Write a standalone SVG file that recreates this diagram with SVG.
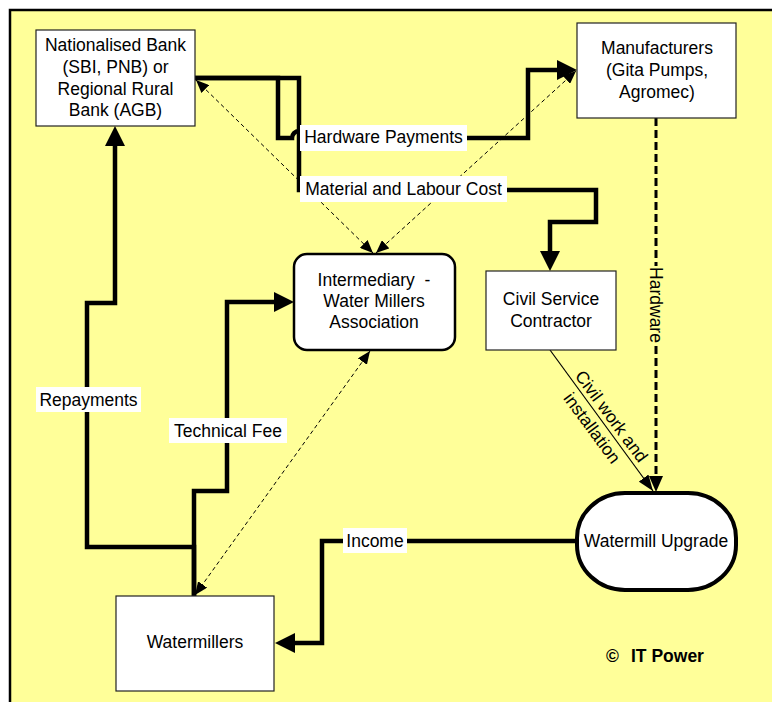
<svg xmlns="http://www.w3.org/2000/svg" width="772" height="702" viewBox="0 0 772 702">
<style>
text{font-family:"Liberation Sans",Arial,sans-serif;font-size:17.5px;fill:#000}
.c{text-anchor:middle}
.box{fill:#fff;stroke:#222;stroke-width:1.2}
.thick{fill:none;stroke:#000;stroke-width:4.5}
.dash{fill:none;stroke:#000;stroke-width:1;stroke-dasharray:4,3}
.lbl{fill:#fff}
</style>
<defs>
<marker id="big" markerUnits="userSpaceOnUse" viewBox="0 0 20 20" markerWidth="20" markerHeight="20" refX="10" refY="10" orient="auto"><path d="M0,0 L20,10 L0,20 z" fill="#000"/></marker>
<marker id="hw" markerUnits="userSpaceOnUse" viewBox="0 0 16 14" markerWidth="16" markerHeight="14" refX="8" refY="7" orient="auto"><path d="M0,0 L16,7 L0,14 z" fill="#000"/></marker>
<marker id="cw" markerUnits="userSpaceOnUse" viewBox="0 0 16 12" markerWidth="16" markerHeight="12" refX="16" refY="6" orient="auto"><path d="M0,0 L16,6 L0,12 z" fill="#000"/></marker>
<marker id="sm" markerUnits="userSpaceOnUse" viewBox="0 0 13 11" markerWidth="13" markerHeight="11" refX="13" refY="5.5" orient="auto-start-reverse"><path d="M0,0 L13,5.5 L0,11 z" fill="#000"/></marker>
</defs>
<rect x="0" y="0" width="772" height="702" fill="#fff"/>
<rect x="10" y="10" width="800" height="720" fill="#FFFF99" stroke="#000" stroke-width="2.5"/>

<g id="connectors">
<path class="thick" d="M195,78 H278 V138 H292 A7,7 0 0 1 306,138 H528 V70 H567" marker-end="url(#big)"/>
<path class="thick" d="M195,78 H299 V190 H596 V222 H550 V261" marker-end="url(#big)"/>
<path class="thick" d="M194,596 V547 H87 V303 H115 V136" marker-end="url(#big)"/>
<path class="thick" d="M194,596 V491 H227 V302 H284" marker-end="url(#big)"/>
<path class="thick" d="M576,541 H322 V643 H285" marker-end="url(#big)"/>
<path d="M656,118 V484" fill="none" stroke="#000" stroke-width="3" stroke-dasharray="8,4" marker-end="url(#hw)"/>
<path d="M550,350 L653,491" fill="none" stroke="#000" stroke-width="1.2" marker-end="url(#cw)"/>
<path class="dash" d="M196,80 L373,253" marker-start="url(#sm)" marker-end="url(#sm)"/>
<path class="dash" d="M376,253 L576,71" marker-start="url(#sm)" marker-end="url(#sm)"/>
<path class="dash" d="M370,351 L195,595" marker-start="url(#sm)" marker-end="url(#sm)"/>
<rect class="lbl" x="300" y="125" width="167" height="26"/>
<text class="c" x="383.5" y="143">Hardware Payments</text>
<rect class="lbl" x="300" y="176" width="207" height="26"/>
<text class="c" x="403.5" y="195">Material and Labour Cost</text>
<rect class="lbl" x="36" y="387" width="105" height="25"/>
<text class="c" x="88.5" y="406">Repayments</text>
<rect class="lbl" x="169" y="418" width="118" height="25"/>
<text class="c" x="228" y="437">Technical Fee</text>
<rect class="lbl" x="343" y="528" width="64" height="25"/>
<text class="c" x="375" y="547">Income</text>
<rect x="647" y="266" width="18" height="78" fill="#FFFF99"/>
<text class="c" transform="translate(656,305) rotate(90)" x="0" y="6">Hardware</text>
<g transform="translate(602,422) rotate(53.6)">
<text class="c" x="1" y="-5">Civil work and</text>
<text class="c" x="-1" y="17.5">installation</text>
</g>
</g>

<g id="bank">
<rect class="box" x="36" y="30" width="159" height="96"/>
<text class="c" x="115.5" y="51">Nationalised Bank</text>
<text class="c" x="115.5" y="73">(SBI, PNB) or</text>
<text class="c" x="115.5" y="95">Regional Rural</text>
<text class="c" x="115.5" y="116">Bank (AGB)</text>
</g>
<g id="manufacturers">
<rect class="box" x="577" y="23" width="159" height="95"/>
<text class="c" x="657" y="54">Manufacturers</text>
<text class="c" x="657" y="76">(Gita Pumps,</text>
<text class="c" x="657" y="98">Agromec)</text>
</g>
<g id="intermediary">
<rect x="294" y="254" width="161" height="96" rx="13" fill="#fff" stroke="#000" stroke-width="2.5"/>
<text class="c" x="374" y="286" xml:space="preserve">Intermediary  -</text>
<text class="c" x="374" y="307">Water Millers</text>
<text class="c" x="374" y="328">Association</text>
</g>
<g id="contractor">
<rect class="box" x="486" y="271" width="130" height="79"/>
<text class="c" x="551" y="305">Civil Service</text>
<text class="c" x="551" y="327">Contractor</text>
</g>
<g id="upgrade">
<rect x="577" y="493" width="159" height="97" rx="48" ry="45" fill="#fff" stroke="#000" stroke-width="4"/>
<text class="c" x="656" y="547">Watermill Upgrade</text>
</g>
<g id="watermillers">
<rect class="box" x="116" y="596" width="158" height="95"/>
<text class="c" x="195" y="648">Watermillers</text>
</g>
<text x="606" y="662" style="font-weight:bold"><tspan>©</tspan><tspan x="631">IT Power</tspan></text>
</svg>
